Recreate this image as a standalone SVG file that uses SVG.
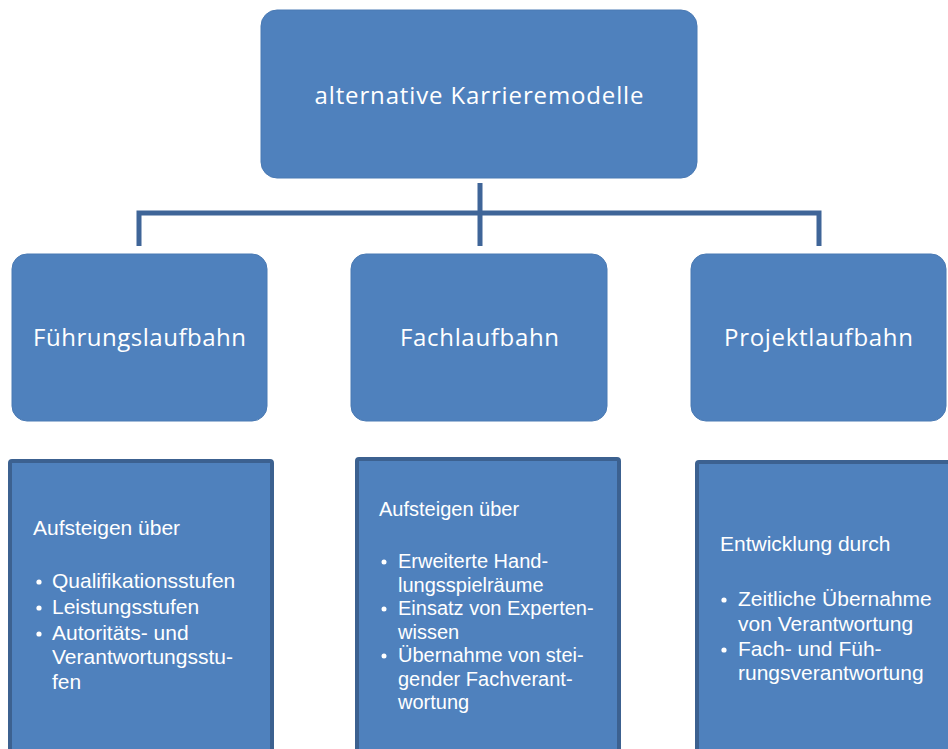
<svg xmlns="http://www.w3.org/2000/svg" width="948" height="749" viewBox="0 0 948 749">
<style>
.box{fill:#4F81BD;stroke:#4A7AB4;stroke-width:1}
.list{fill:#4F81BD;stroke:#3C6190;stroke-width:4}
.conn{fill:none;stroke:#3F6598;stroke-width:5}
.t1{font-family:"Open Sans","Noto Sans",sans-serif;fill:#FFFFFF;text-anchor:middle}
.t2{font-family:"Liberation Sans",Arial,sans-serif;fill:#FFFFFF}
.dot{fill:#FFFFFF}
</style>
<rect width="948" height="749" fill="#FFFFFF"/>
<g id="connectors">
<path class="conn" d="M480 183 V246 M139 246 V213 H819 V246"/>
</g>
<g id="root">
<rect class="box" x="261" y="10" width="436" height="168" rx="16"/>
<text class="t1" x="479" y="104" font-size="24" textLength="329">alternative Karrieremodelle</text>
</g>
<g id="fuehrung">
<rect class="box" x="12" y="254" width="255" height="167" rx="15"/>
<text class="t1" x="139.5" y="346" font-size="24" textLength="213">Führungslaufbahn</text>
</g>
<g id="fach">
<rect class="box" x="351" y="254" width="256" height="167" rx="15"/>
<text class="t1" x="479.5" y="346" font-size="24" textLength="159">Fachlaufbahn</text>
</g>
<g id="projekt">
<rect class="box" x="691" y="254" width="255" height="167" rx="15"/>
<text class="t1" x="818.5" y="346" font-size="24" textLength="189">Projektlaufbahn</text>
</g>
<g id="fuehrung-detail">
<rect class="list" x="10" y="461" width="262" height="300" rx="2"/>
<g class="t2" font-size="21">
<text x="33" y="535">Aufsteigen über</text>
<text x="52" y="588">Qualifikationsstufen</text>
<text x="52" y="614">Leistungsstufen</text>
<text x="52" y="640">Autoritäts- und</text>
<text x="52" y="664">Verantwortungsstu-</text>
<text x="52" y="689">fen</text>
</g>
<circle class="dot" cx="39" cy="582" r="2.6"/>
<circle class="dot" cx="39" cy="608" r="2.6"/>
<circle class="dot" cx="39" cy="634" r="2.6"/>
</g>
<g id="fach-detail">
<rect class="list" x="357" y="459" width="262" height="300" rx="2"/>
<g class="t2" font-size="20">
<text x="379" y="516">Aufsteigen über</text>
<text x="398" y="568">Erweiterte Hand-</text>
<text x="398" y="591.5">lungsspielräume</text>
<text x="398" y="615">Einsatz von Experten-</text>
<text x="398" y="638.5">wissen</text>
<text x="398" y="662">Übernahme von stei-</text>
<text x="398" y="685.5">gender Fachverant-</text>
<text x="398" y="709">wortung</text>
</g>
<circle class="dot" cx="384" cy="562" r="2.5"/>
<circle class="dot" cx="384" cy="609" r="2.5"/>
<circle class="dot" cx="384" cy="656" r="2.5"/>
</g>
<g id="projekt-detail">
<rect class="list" x="697" y="462" width="262" height="300" rx="2"/>
<g class="t2" font-size="21">
<text x="720" y="551">Entwicklung durch</text>
<text x="738" y="606">Zeitliche Übernahme</text>
<text x="738" y="631">von Verantwortung</text>
<text x="738" y="656">Fach- und Füh-</text>
<text x="738" y="680">rungsverantwortung</text>
</g>
<circle class="dot" cx="724" cy="600" r="2.6"/>
<circle class="dot" cx="724" cy="650" r="2.6"/>
</g>
</svg>
